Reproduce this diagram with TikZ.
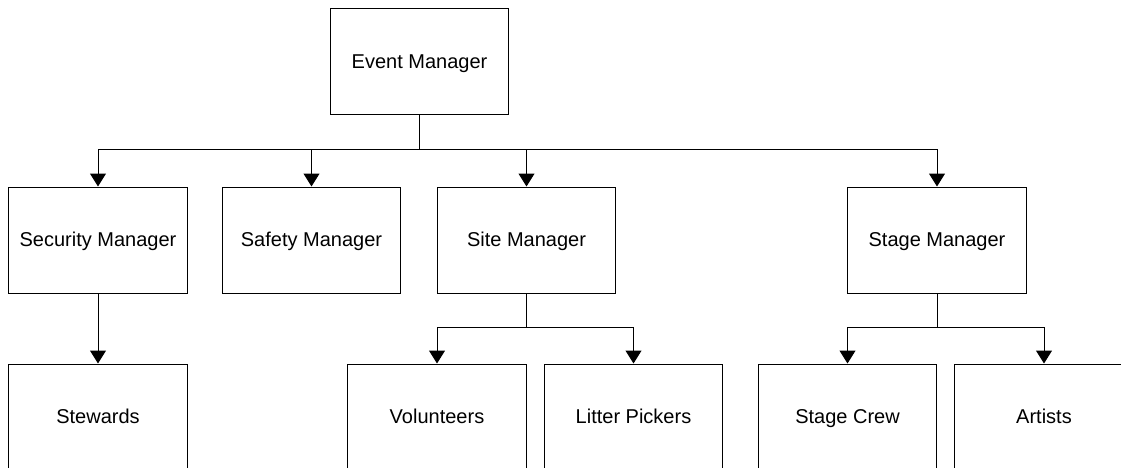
\documentclass[tikz,border=0pt]{standalone}
\usepackage{fontspec}
\setmainfont{Liberation Sans}
\usetikzlibrary{arrows.meta}
\tikzset{
  rolebox/.style={draw=black, line width=1pt, rectangle, minimum width=178.5pt,
    minimum height=106pt, inner sep=0pt, text height=17.6pt, text depth=4pt,
    font=\fontsize{20pt}{24pt}\selectfont},
  link/.style={draw=black, line width=1pt},
  linkarrow/.style={link, -{Triangle[width=16pt,length=13pt]}}
}
\begin{document}
\begin{tikzpicture}[x=1pt, y=-1pt]
  \useasboundingbox (0,0) rectangle (1121,468);
  \clip (0,0) rectangle (1121,468);
  \fill[white] (0,0) rectangle (1121,468);

  % top level
  \node[rolebox] (em) at (419.5,62) {Event Manager};

  % second level
  \node[rolebox] (sec)   at (98,240)    {Security Manager};
  \node[rolebox] (saf)   at (311.5,240) {Safety Manager};
  \node[rolebox] (site)  at (526.5,240) {Site Manager};
  \node[rolebox] (stage) at (937,240)   {Stage Manager};

  % third level
  \node[rolebox] (stew)  at (98,417)    {Stewards};
  \node[rolebox] (vol)   at (437,417)   {Volunteers};
  \node[rolebox] (lit)   at (633.5,417) {Litter Pickers};
  \node[rolebox] (crew)  at (847.5,417) {Stage Crew};
  \node[rolebox] (art)   at (1044,417)  {Artists};

  % connectors from the event manager
  \foreach \c in {sec,saf,site,stage}
    \draw[linkarrow] (em.south) -- ++(0,34) -| (\c.north);

  % security manager to stewards
  \draw[linkarrow] (sec.south) -- (stew.north);

  % site manager to its teams
  \foreach \c in {vol,lit}
    \draw[linkarrow] (site.south) -- ++(0,34) -| (\c.north);

  % stage manager to its teams
  \foreach \c in {crew,art}
    \draw[linkarrow] (stage.south) -- ++(0,34) -| (\c.north);
\end{tikzpicture}
\end{document}
